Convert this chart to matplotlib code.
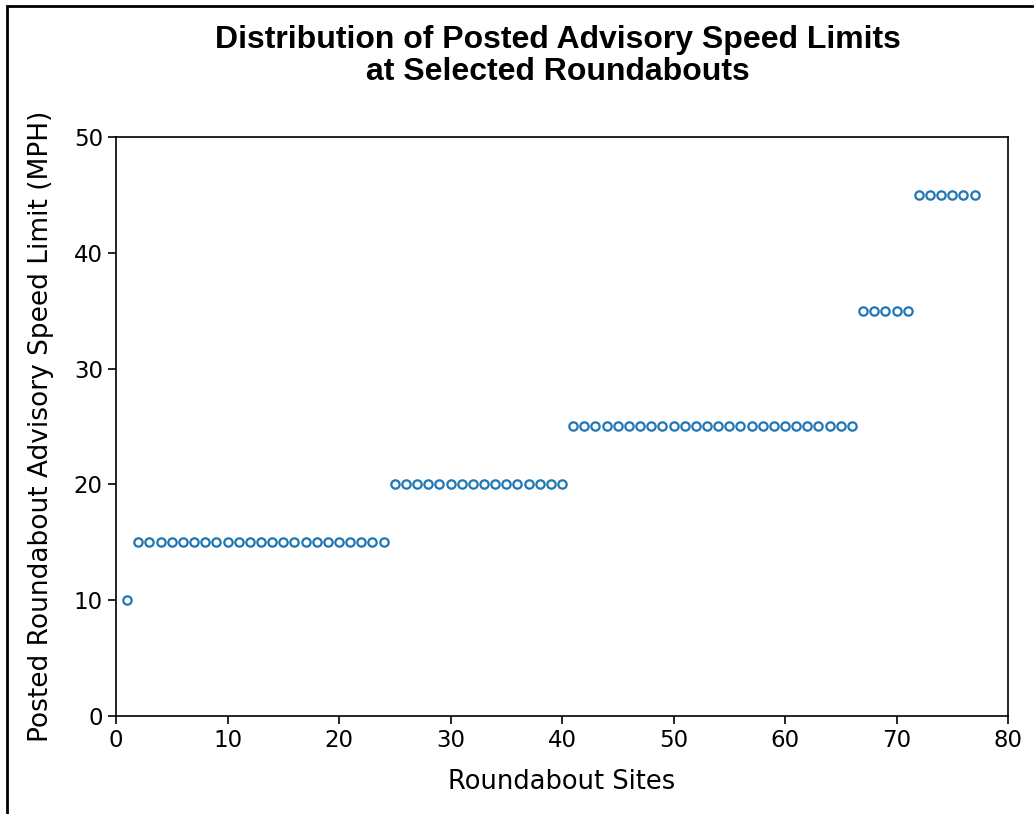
import numpy as np
import matplotlib.pyplot as plt
from matplotlib.patches import Rectangle

# speed limit groups (mph) and how many sites carry each one
speed_levels = [10, 15, 20, 25, 35, 45]
site_counts = [1, 23, 16, 26, 5, 6]

speeds = np.repeat(speed_levels, site_counts)
sites = np.arange(1, len(speeds) + 1)

fig = plt.figure(figsize=(10.34, 8.14), dpi=100)
ax = fig.add_axes([0.1122, 0.1204, 0.8627, 0.7113])

ax.plot(sites, speeds, 'o', linestyle='none', markersize=6,
        markerfacecolor='none', markeredgecolor='#1f77b4', markeredgewidth=1.6)

ax.set_xlim(0, 80)
ax.set_ylim(0, 50)
ax.set_xticks(range(0, 81, 10))
ax.set_yticks(range(0, 51, 10))
ax.tick_params(labelsize=16.5, length=6, width=1.2)
for s in ax.spines.values():
    s.set_linewidth(1.2)
ax.set_xlabel('Roundabout Sites', fontsize=18.5, labelpad=12)
ax.set_ylabel('Posted Roundabout Advisory Speed Limit (MPH)', fontsize=19, labelpad=14)

fig.text(0.5397, 0.931, 'Distribution of Posted Advisory Speed Limits\nat Selected Roundabouts',
         ha='center', va='center', fontsize=23, fontweight='bold',
         family='Liberation Sans', linespacing=1.1)

# frame around the picture (left and top edges visible)
fig.patches.append(Rectangle((7 / 1034, -0.05), 1.1, 1.05 - 6 / 814,
                             transform=fig.transFigure, fill=False,
                             edgecolor='black', linewidth=2))

fig.savefig('out.png', dpi=100)
